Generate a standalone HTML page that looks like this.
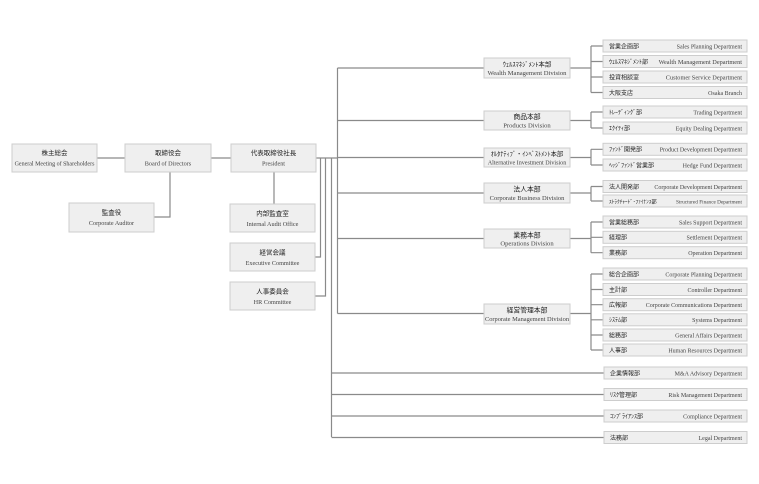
<!DOCTYPE html>
<html><head><meta charset="utf-8"><style>
html,body{margin:0;padding:0;background:#fff;}
svg{display:block;}
.b{fill:#efefef;stroke:#cdcdcd;stroke-width:1;}
.l{stroke:#8a8a8a;stroke-width:1.2;fill:none;}
.jp{font-family:"Liberation Sans","Noto Sans CJK JP",sans-serif;fill:#222;}
.en{font-family:"Liberation Serif",serif;fill:#444;}
</style></head><body>
<svg width="759" height="484" viewBox="0 0 759 484" xmlns="http://www.w3.org/2000/svg">
<!-- connectors left -->
<path class="l" d="M97 158H125M211 158H231M170 172V217H154M274 172V204M316 158H337.5"/>
<path class="l" d="M320.5 158V257H315M325.5 158V296H315M331.5 158V437M331.5 373H604M331.5 394.5H604M331.5 416H604M331.5 437.5H604"/>
<path class="l" d="M337.5 68V313.5M337.5 68H484M337.5 120.5H484M337.5 157.5H484M337.5 193H484M337.5 238.5H484M337.5 313.5H484"/>
<!-- division to dept connectors -->
<path class="l" d="M570 68H591M591 46V92.5M591 46H603M591 61.5H603M591 77H603M591 92.5H603"/>
<path class="l" d="M570 120.5H591M591 112V128M591 112H603M591 128H603"/>
<path class="l" d="M570 157.5H591M591 149.3V165M591 149.3H603M591 165H603"/>
<path class="l" d="M570 193H591M591 186.5V201M591 186.5H603M591 201H603"/>
<path class="l" d="M570 238.5H591M591 222V252.7M591 222H603M591 237.3H603M591 252.7H603"/>
<path class="l" d="M570 313.5H591M591 274V350M591 274H603M591 289.5H603M591 304.7H603M591 319.8H603M591 335H603M591 350H603"/>

<!-- main boxes -->
<rect class="b" x="12" y="144" width="85" height="28"/>
<text class="jp" x="54.5" y="155" font-size="6.5" text-anchor="middle">株主総会</text>
<text class="en" x="54.5" y="165.5" font-size="6" text-anchor="middle">General Meeting of Shareholders</text>

<rect class="b" x="125" y="144" width="86" height="28"/>
<text class="jp" x="168" y="155" font-size="6.5" text-anchor="middle">取締役会</text>
<text class="en" x="168" y="165.5" font-size="6.2" text-anchor="middle">Board of Directors</text>

<rect class="b" x="231" y="144" width="85" height="28"/>
<text class="jp" x="273.5" y="155" font-size="6.5" text-anchor="middle">代表取締役社長</text>
<text class="en" x="273.5" y="165.5" font-size="6.2" text-anchor="middle">President</text>

<rect class="b" x="69" y="203" width="85" height="29"/>
<text class="jp" x="111.5" y="214.5" font-size="6.5" text-anchor="middle">監査役</text>
<text class="en" x="111.5" y="225" font-size="6.2" text-anchor="middle">Corporate Auditor</text>

<rect class="b" x="230" y="204" width="85" height="28"/>
<text class="jp" x="272.5" y="215.5" font-size="6.5" text-anchor="middle">内部監査室</text>
<text class="en" x="272.5" y="226" font-size="6.2" text-anchor="middle">Internal Audit Office</text>

<rect class="b" x="230" y="243" width="85" height="28"/>
<text class="jp" x="272.5" y="254.5" font-size="6.5" text-anchor="middle">経営会議</text>
<text class="en" x="272.5" y="265" font-size="6.2" text-anchor="middle">Executive Committee</text>

<rect class="b" x="230" y="282" width="85" height="28"/>
<text class="jp" x="272.5" y="293.5" font-size="6.5" text-anchor="middle">人事委員会</text>
<text class="en" x="272.5" y="304" font-size="6.2" text-anchor="middle">HR Committee</text>

<!-- divisions -->
<rect class="b" x="484" y="58" width="86" height="20"/>
<text class="jp" x="527" y="66.5" font-size="6.5" text-anchor="middle">ｳｪﾙｽﾏﾈｼﾞﾒﾝﾄ本部</text>
<text class="en" x="527" y="75" font-size="6.6" text-anchor="middle">Wealth Management Division</text>

<rect class="b" x="484" y="111" width="86" height="19"/>
<text class="jp" x="527" y="119" font-size="6.8" text-anchor="middle">商品本部</text>
<text class="en" x="527" y="127.3" font-size="6.6" text-anchor="middle">Products Division</text>

<rect class="b" x="484" y="148" width="86" height="19"/>
<text class="jp" x="527" y="156" font-size="6.3" text-anchor="middle">ｵﾙﾀﾅﾃｨﾌﾞ・ｲﾝﾍﾞｽﾄﾒﾝﾄ本部</text>
<text class="en" x="527" y="164.3" font-size="6.1" text-anchor="middle">Alternative Investment Division</text>

<rect class="b" x="484" y="183" width="86" height="20"/>
<text class="jp" x="527" y="191.5" font-size="6.8" text-anchor="middle">法人本部</text>
<text class="en" x="527" y="200" font-size="6.5" text-anchor="middle">Corporate Business Division</text>

<rect class="b" x="484" y="229" width="86" height="19"/>
<text class="jp" x="527" y="237.3" font-size="6.8" text-anchor="middle">業務本部</text>
<text class="en" x="527" y="245.7" font-size="6.6" text-anchor="middle">Operations Division</text>

<rect class="b" x="484" y="304" width="86" height="20"/>
<text class="jp" x="527" y="312.3" font-size="6.8" text-anchor="middle">経営管理本部</text>
<text class="en" x="527" y="320.8" font-size="6.4" text-anchor="middle">Corporate Management Division</text>

<!-- departments -->
<g font-size="6">
<rect class="b" x="603" y="40" width="144" height="12"/><text class="jp" x="609" y="48.3">営業企画部</text><text class="en" x="742" y="48.3" text-anchor="end">Sales Planning Department</text>
<rect class="b" x="603" y="55.5" width="144" height="12"/><text class="jp" x="609" y="63.8">ｳｪﾙｽﾏﾈｼﾞﾒﾝﾄ部</text><text class="en" x="742" y="63.8" text-anchor="end" font-size="6.3">Wealth Management Department</text>
<rect class="b" x="603" y="71" width="144" height="12"/><text class="jp" x="609" y="79.3">投資相談室</text><text class="en" x="742" y="79.3" text-anchor="end" font-size="6.3">Customer Service Department</text>
<rect class="b" x="603" y="86.5" width="144" height="12"/><text class="jp" x="609" y="94.8">大阪支店</text><text class="en" x="742" y="94.8" text-anchor="end">Osaka Branch</text>

<rect class="b" x="603" y="106" width="144" height="12"/><text class="jp" x="609" y="114.3">ﾄﾚｰﾃﾞｨﾝｸﾞ部</text><text class="en" x="742" y="114.3" text-anchor="end">Trading Department</text>
<rect class="b" x="603" y="122" width="144" height="12"/><text class="jp" x="609" y="130.3">ｴｸｲﾃｨ部</text><text class="en" x="742" y="130.3" text-anchor="end">Equity Dealing Department</text>

<rect class="b" x="603" y="143.3" width="144" height="12"/><text class="jp" x="609" y="151.6">ﾌｧﾝﾄﾞ開発部</text><text class="en" x="742" y="151.6" text-anchor="end">Product Development Department</text>
<rect class="b" x="603" y="159" width="144" height="12"/><text class="jp" x="609" y="167.3">ﾍｯｼﾞﾌｧﾝﾄﾞ営業部</text><text class="en" x="742" y="167.3" text-anchor="end">Hedge Fund Department</text>

<rect class="b" x="603" y="180.5" width="144" height="12"/><text class="jp" x="609" y="188.8">法人開発部</text><text class="en" x="742" y="188.8" text-anchor="end">Corporate Development Department</text>
<rect class="b" x="603" y="195" width="144" height="12"/><text class="jp" x="609" y="203.3" font-size="5.3">ｽﾄﾗｸﾁｬｰﾄﾞ･ﾌｧｲﾅﾝｽ部</text><text class="en" x="742" y="203.3" text-anchor="end" font-size="5.5" textLength="66" lengthAdjust="spacingAndGlyphs">Structured Finance Department</text>

<rect class="b" x="603" y="216" width="144" height="12"/><text class="jp" x="609" y="224.3">営業総務部</text><text class="en" x="742" y="224.3" text-anchor="end">Sales Support Department</text>
<rect class="b" x="603" y="231.3" width="144" height="12"/><text class="jp" x="609" y="239.6">経理部</text><text class="en" x="742" y="239.6" text-anchor="end">Settlement Department</text>
<rect class="b" x="603" y="246.7" width="144" height="12"/><text class="jp" x="609" y="255">業務部</text><text class="en" x="742" y="255" text-anchor="end">Operation Department</text>

<rect class="b" x="603" y="268" width="144" height="12"/><text class="jp" x="609" y="276.3">総合企画部</text><text class="en" x="742" y="276.3" text-anchor="end">Corporate Planning Department</text>
<rect class="b" x="603" y="283.5" width="144" height="12"/><text class="jp" x="609" y="291.8">主計部</text><text class="en" x="742" y="291.8" text-anchor="end">Controller Department</text>
<rect class="b" x="603" y="298.7" width="144" height="12"/><text class="jp" x="609" y="307">広報部</text><text class="en" x="742" y="307" text-anchor="end">Corporate Communications Department</text>
<rect class="b" x="603" y="313.8" width="144" height="12"/><text class="jp" x="609" y="322.1">ｼｽﾃﾑ部</text><text class="en" x="742" y="322.1" text-anchor="end">Systems Department</text>
<rect class="b" x="603" y="329" width="144" height="12"/><text class="jp" x="609" y="337.3">総務部</text><text class="en" x="742" y="337.3" text-anchor="end">General Affairs Department</text>
<rect class="b" x="603" y="344" width="144" height="12"/><text class="jp" x="609" y="352.3">人事部</text><text class="en" x="742" y="352.3" text-anchor="end">Human Resources Department</text>

<rect class="b" x="604" y="367" width="143" height="12"/><text class="jp" x="610" y="375.3">企業情報部</text><text class="en" x="742" y="375.3" text-anchor="end">M&amp;A Advisory Department</text>
<rect class="b" x="604" y="388.5" width="143" height="12"/><text class="jp" x="610" y="396.8">ﾘｽｸ管理部</text><text class="en" x="742" y="396.8" text-anchor="end">Risk Management Department</text>
<rect class="b" x="604" y="410" width="143" height="12"/><text class="jp" x="610" y="418.3">ｺﾝﾌﾟﾗｲｱﾝｽ部</text><text class="en" x="742" y="418.3" text-anchor="end">Compliance Department</text>
<rect class="b" x="604" y="431.5" width="143" height="12"/><text class="jp" x="610" y="439.8">法務部</text><text class="en" x="742" y="439.8" text-anchor="end">Legal Department</text>
</g>
</svg>
</body></html>
